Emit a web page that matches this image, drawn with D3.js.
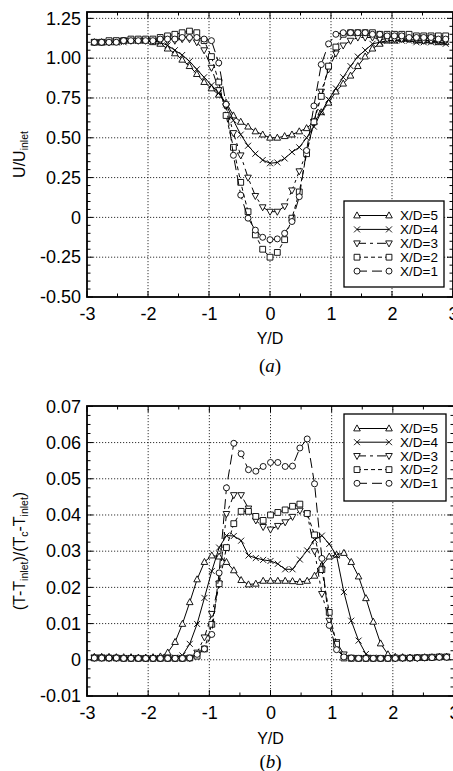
<!DOCTYPE html>
<html>
<head>
<meta charset="utf-8">
<script src="https://cdn.jsdelivr.net/npm/d3@7"></script>
<style>
  html, body { margin: 0; padding: 0; background: #fff; }
  svg { display: block; }
  svg text { font-family: "Liberation Sans", Arimo, Arial, Helvetica, sans-serif; }
  svg text.serif { font-family: "Liberation Serif", "Times New Roman", serif; }
</style>
</head>
<body>
<svg id="chart" width="453" height="771"></svg>
<script>
// Y/D stations shared by all profiles
const yD = [
  -2.88, -2.76, -2.64, -2.52, -2.4, -2.28, -2.16, -2.04, -1.92, -1.8,
  -1.68, -1.56, -1.44, -1.32, -1.2, -1.08, -0.96, -0.84, -0.72, -0.6,
  -0.48, -0.36, -0.24, -0.12, 0, 0.12, 0.24, 0.36, 0.48, 0.6,
  0.72, 0.84, 0.96, 1.08, 1.2, 1.32, 1.44, 1.56, 1.68, 1.8,
  1.92, 2.04, 2.16, 2.28, 2.4, 2.52, 2.64, 2.76, 2.88,
];

const seriesNames = ["X/D=5", "X/D=4", "X/D=3", "X/D=2", "X/D=1"];

// (a) U/U_inlet
const u5 = [
  1.10, 1.10, 1.10, 1.10, 1.11, 1.11, 1.11, 1.11, 1.10, 1.09,
  1.06, 1.03, 0.99, 0.95, 0.90, 0.85, 0.81, 0.77, 0.72, 0.64,
  0.60, 0.57, 0.54, 0.52, 0.50, 0.50, 0.51, 0.52, 0.54, 0.56,
  0.60, 0.66, 0.72, 0.79, 0.84, 0.89, 0.95, 1.01, 1.06, 1.09,
  1.11, 1.11, 1.12, 1.12, 1.11, 1.11, 1.11, 1.10, 1.10,
];
const u4 = [
  1.10, 1.10, 1.10, 1.10, 1.10, 1.11, 1.11, 1.11, 1.11, 1.10,
  1.08, 1.05, 1.02, 0.98, 0.93, 0.88, 0.83, 0.78, 0.71, 0.61,
  0.52, 0.45, 0.40, 0.36, 0.34, 0.345, 0.37, 0.41, 0.44, 0.50,
  0.57, 0.66, 0.74, 0.81, 0.88, 0.95, 1.01, 1.05, 1.09, 1.10,
  1.11, 1.11, 1.11, 1.11, 1.10, 1.10, 1.10, 1.10, 1.09,
];
const u3 = [
  1.10, 1.10, 1.10, 1.11, 1.11, 1.11, 1.11, 1.11, 1.11, 1.11,
  1.11, 1.11, 1.12, 1.12, 1.10, 1.05, 0.94, 0.80, 0.70, 0.53,
  0.39, 0.25, 0.135, 0.064, 0.036, 0.036, 0.07, 0.17, 0.29, 0.41,
  0.60, 0.79, 0.93, 1.03, 1.08, 1.11, 1.13, 1.13, 1.13, 1.12,
  1.12, 1.12, 1.12, 1.12, 1.12, 1.11, 1.11, 1.11, 1.11,
];
const u2 = [
  1.10, 1.10, 1.11, 1.11, 1.11, 1.12, 1.12, 1.12, 1.12, 1.13,
  1.14, 1.15, 1.16, 1.17, 1.16, 1.11, 1.01, 0.85, 0.64, 0.44,
  0.22, 0.036, -0.11, -0.20, -0.25, -0.22, -0.14, -0.005, 0.16, 0.40,
  0.60, 0.76, 0.95, 1.07, 1.15, 1.16, 1.16, 1.16, 1.16, 1.15,
  1.15, 1.15, 1.15, 1.15, 1.14, 1.14, 1.14, 1.14, 1.14,
];
const u1 = [
  1.10, 1.10, 1.10, 1.10, 1.11, 1.11, 1.11, 1.11, 1.11, 1.12,
  1.12, 1.12, 1.13, 1.13, 1.13, 1.12, 1.11, 0.97, 0.71, 0.39,
  0.14, -0.005, -0.08, -0.125, -0.14, -0.135, -0.10, -0.026, 0.13, 0.42,
  0.70, 0.96, 1.09, 1.15, 1.16, 1.16, 1.16, 1.16, 1.15, 1.15,
  1.14, 1.14, 1.14, 1.13, 1.13, 1.13, 1.13, 1.12, 1.12,
];

// (b) (T-T_inlet)/(T_c-T_inlet)
const t5 = [
  0.0008, 0.0008, 0.0008, 0.0007, 0.0007, 0.0007, 0.0006, 0.0006, 0.0007, 0.0009,
  0.002, 0.0049, 0.0099, 0.0159, 0.0222, 0.027, 0.0288, 0.0285, 0.027, 0.0247,
  0.022, 0.0208, 0.021, 0.0218, 0.0218, 0.0218, 0.0218, 0.0217, 0.0215, 0.0218,
  0.0232, 0.026, 0.0285, 0.029, 0.0295, 0.027, 0.023, 0.017, 0.0105, 0.0045,
  0.0015, 0.0008, 0.0007, 0.0006, 0.0006, 0.0007, 0.0007, 0.0008, 0.0008,
];
const t4 = [
  0.0006, 0.0006, 0.0005, 0.0005, 0.0005, 0.0005, 0.0005, 0.0005, 0.0005, 0.0005,
  0.0005, 0.0006, 0.0012, 0.0044, 0.0099, 0.0171, 0.0245, 0.031, 0.0343, 0.0342,
  0.0329, 0.0288, 0.0281, 0.0276, 0.0273, 0.0265, 0.025, 0.025, 0.0277, 0.0302,
  0.0332, 0.0343, 0.032, 0.0288, 0.0187, 0.0108, 0.0053, 0.0016, 0.0006, 0.0005,
  0.0005, 0.0005, 0.0005, 0.0005, 0.0006, 0.0006, 0.0007, 0.0008, 0.0008,
];
const t3 = [
  0.0006, 0.0006, 0.0005, 0.0005, 0.0005, 0.0005, 0.0004, 0.0004, 0.0004, 0.0004,
  0.0004, 0.0004, 0.0004, 0.0005, 0.002, 0.0062, 0.0127, 0.021, 0.0403, 0.0455,
  0.0455, 0.0418, 0.0385, 0.0367, 0.036, 0.037, 0.038, 0.0395, 0.0412, 0.0404,
  0.030, 0.0182, 0.0108, 0.0049, 0.0015, 0.0006, 0.0005, 0.0004, 0.0004, 0.0004,
  0.0004, 0.0004, 0.0005, 0.0005, 0.0005, 0.0006, 0.0007, 0.0008, 0.0008,
];
const t2 = [
  0.0005, 0.0005, 0.0005, 0.0005, 0.0004, 0.0004, 0.0004, 0.0004, 0.0004, 0.0004,
  0.0004, 0.0004, 0.0004, 0.0005, 0.001, 0.003, 0.0098, 0.021, 0.031, 0.0376,
  0.041, 0.041, 0.0396, 0.0385, 0.040, 0.0407, 0.0414, 0.0424, 0.043, 0.0404,
  0.0345, 0.0249, 0.0131, 0.0043, 0.0005, 0.0004, 0.0004, 0.0004, 0.0004, 0.0004,
  0.0004, 0.0005, 0.0005, 0.0005, 0.0006, 0.0006, 0.0007, 0.0008, 0.0008,
];
const t1 = [
  0.0005, 0.0005, 0.0005, 0.0005, 0.0004, 0.0004, 0.0004, 0.0004, 0.0004, 0.0004,
  0.0004, 0.0004, 0.0004, 0.0005, 0.0015, 0.003, 0.007, 0.024, 0.0475, 0.0598,
  0.0569, 0.0525, 0.0521, 0.0534, 0.0545, 0.0545, 0.0534, 0.0535, 0.0585, 0.061,
  0.0486, 0.028, 0.0095, 0.0028, 0.0008, 0.0005, 0.0004, 0.0004, 0.0004, 0.0004,
  0.0004, 0.0004, 0.0005, 0.0005, 0.0005, 0.0006, 0.0006, 0.0007, 0.0007,
];

const xTicks = [-3, -2, -1, 0, 1, 2, 3];
const xTickLabels = ["-3", "-2", "-1", "0", "1", "2", "3"];
const uTicks = [-0.5, -0.25, 0, 0.25, 0.5, 0.75, 1.0, 1.25];
const uTickLabels = ["-0.50", "-0.25", "0", "0.25", "0.50", "0.75", "1.00", "1.25"];
const tTicks = [-0.01, 0, 0.01, 0.02, 0.03, 0.04, 0.05, 0.06, 0.07];
const tTickLabels = ["-0.01", "0", "0.01", "0.02", "0.03", "0.04", "0.05", "0.06", "0.07"];

// marker shape + dash pattern per station
const styles = [
  { marker: "triUp", dash: null },
  { marker: "cross", dash: null },
  { marker: "triDown", dash: "9,4,3,4" },
  { marker: "square", dash: "4,3" },
  { marker: "circle", dash: "10,5" },
];

const markerPath = {
  triUp: "M0,-3.6L3.3,2.4L-3.3,2.4Z",
  triDown: "M0,3.6L3.3,-2.4L-3.3,-2.4Z",
  square: "M-2.9,-2.9H2.9V2.9H-2.9Z",
  cross: "M-3,-3L3,3M-3,3L3,-3",
  circle: "M3,0A3,3 0 1,1 -3,0A3,3 0 1,1 3,0Z",
};

const svg = d3.select("#chart");

function drawPanel({ top, bottom, left, right, yDomain, yTicks, yTickLabels, yMinorStep, values, legendBox, caption, captionY, titleY, yLabel }) {
  const x = d3.scaleLinear().domain([-3, 3]).range([left, right]);
  const y = d3.scaleLinear().domain(yDomain).range([bottom, top]);
  const g = svg.append("g");

  // dotted grid
  g.append("g")
    .selectAll("line")
    .data(xTicks.slice(1, -1))
    .join("line")
    .attr("x1", (d) => x(d)).attr("x2", (d) => x(d))
    .attr("y1", top).attr("y2", bottom)
    .attr("stroke", "#000").attr("stroke-width", 0.8).attr("stroke-dasharray", "1.2,1.8");
  g.append("g")
    .selectAll("line")
    .data(yTicks.slice(1).filter((d) => y(d) > top + 1))
    .join("line")
    .attr("x1", left).attr("x2", right)
    .attr("y1", (d) => y(d)).attr("y2", (d) => y(d))
    .attr("stroke", "#000").attr("stroke-width", 0.8).attr("stroke-dasharray", "1.2,1.8");

  // major / minor ticks, pointing inward on all four sides
  const xMinor = d3.range(-3, 3.001, 0.5);
  const yMinor = d3.range(yDomain[0], yDomain[1] + 1e-9, yMinorStep);
  const tickG = g.append("g").attr("stroke", "#000").attr("stroke-width", 1);
  xMinor.forEach((v) => {
    const len = Number.isInteger(v) ? 6 : 3.5;
    tickG.append("line").attr("x1", x(v)).attr("x2", x(v)).attr("y1", bottom).attr("y2", bottom - len);
    tickG.append("line").attr("x1", x(v)).attr("x2", x(v)).attr("y1", top).attr("y2", top + len);
  });
  yMinor.forEach((v) => {
    const major = yTicks.some((t) => Math.abs(t - v) < 1e-9);
    const len = major ? 6 : 3.5;
    tickG.append("line").attr("x1", left).attr("x2", left + len).attr("y1", y(v)).attr("y2", y(v));
    tickG.append("line").attr("x1", right).attr("x2", right - len).attr("y1", y(v)).attr("y2", y(v));
  });

  // tick labels
  g.append("g")
    .attr("transform", `translate(0,${bottom})`)
    .call(d3.axisBottom(x).tickValues(xTicks).tickSize(0).tickPadding(10).tickFormat((d, i) => xTickLabels[i]))
    .call((a) => a.select(".domain").remove())
    .attr("font-family", null)
    .selectAll("text").attr("font-size", 18).attr("fill", "#000");
  g.append("g")
    .attr("transform", `translate(${left},0)`)
    .call(d3.axisLeft(y).tickValues(yTicks).tickSize(0).tickPadding(6).tickFormat((d, i) => yTickLabels[i]))
    .call((a) => a.select(".domain").remove())
    .attr("font-family", null)
    .selectAll("text").attr("font-size", 18).attr("fill", "#000");

  // frame
  g.append("rect")
    .attr("x", left).attr("y", top)
    .attr("width", right - left).attr("height", bottom - top)
    .attr("fill", "none").attr("stroke", "#000").attr("stroke-width", 1.8);

  // lines + markers
  const line = d3.line().x((d) => x(d[0])).y((d) => y(d[1]));
  const plot = g.append("g");
  values.forEach((vals, i) => {
    const pts = yD.map((v, j) => [v, vals[j]]);
    const s = styles[i];
    plot.append("path")
      .attr("d", line(pts))
      .attr("fill", "none").attr("stroke", "#000").attr("stroke-width", 1)
      .attr("stroke-dasharray", s.dash);
    plot.append("g")
      .selectAll("path")
      .data(pts)
      .join("path")
      .attr("transform", (d) => `translate(${x(d[0])},${y(d[1])})`)
      .attr("d", markerPath[s.marker])
      .attr("fill", s.marker === "cross" ? "none" : "#fff")
      .attr("stroke", "#000").attr("stroke-width", 0.9);
  });

  // legend
  const lg = g.append("g");
  lg.append("rect")
    .attr("x", legendBox.x).attr("y", legendBox.y)
    .attr("width", legendBox.w).attr("height", legendBox.h)
    .attr("fill", "#fff").attr("stroke", "#000").attr("stroke-width", 1.3);
  seriesNames.forEach((name, i) => {
    const cy = legendBox.y + 14.5 + i * legendBox.step;
    const s = styles[i];
    lg.append("line")
      .attr("x1", legendBox.x + 13).attr("x2", legendBox.x + 45)
      .attr("y1", cy).attr("y2", cy)
      .attr("stroke", "#000").attr("stroke-width", 1).attr("stroke-dasharray", s.dash);
    [legendBox.x + 13, legendBox.x + 45].forEach((mx) => {
      lg.append("path")
        .attr("transform", `translate(${mx},${cy})`)
        .attr("d", markerPath[s.marker])
        .attr("fill", s.marker === "cross" ? "none" : "#fff")
        .attr("stroke", "#000").attr("stroke-width", 0.9);
    });
    lg.append("text")
      .attr("x", legendBox.x + 56).attr("y", cy).attr("dy", "0.36em")
      .attr("font-size", 13.5).text(name);
  });

  // axis titles
  g.append("text")
    .attr("x", x(0)).attr("y", titleY)
    .attr("text-anchor", "middle").attr("font-size", 16).text("Y/D");

  const yl = g.append("text")
    .attr("transform", `translate(25,${(top + bottom) / 2}) rotate(-90)`)
    .attr("text-anchor", "middle").attr("font-size", 16);
  yLabel.forEach(([txt, sub]) => {
    yl.append("tspan").attr("baseline-shift", sub ? "-30%" : null)
      .attr("font-size", sub ? 10.5 : null).text(txt);
  });

  const cap = g.append("text")
    .attr("class", "serif")
    .attr("x", x(0)).attr("y", captionY)
    .attr("text-anchor", "middle").attr("font-size", 19);
  cap.append("tspan").text("(");
  cap.append("tspan").attr("font-style", "italic").text(caption);
  cap.append("tspan").text(")");
}

drawPanel({
  top: 12, bottom: 297, left: 87, right: 453,
  yDomain: [-0.5, 1.29], yTicks: uTicks, yTickLabels: uTickLabels, yMinorStep: 0.05,
  values: [u5, u4, u3, u2, u1],
  legendBox: { x: 344, y: 201, w: 100, h: 86, step: 13.9 },
  caption: "a", captionY: 372, titleY: 344,
  yLabel: [["U/U", false], ["inlet", true]],
});

drawPanel({
  top: 406, bottom: 696, left: 87, right: 454,
  yDomain: [-0.01, 0.0701], yTicks: tTicks, yTickLabels: tTickLabels, yMinorStep: 0.0025,
  values: [t5, t4, t3, t2, t1],
  legendBox: { x: 344, y: 414, w: 102, h: 87, step: 13.7 },
  caption: "b", captionY: 768, titleY: 744,
  yLabel: [["(T-T", false], ["inlet", true], [")/(T", false], ["c", true], ["-T", false], ["inlet", true], [")", false]],
});
</script>
</body>
</html>
